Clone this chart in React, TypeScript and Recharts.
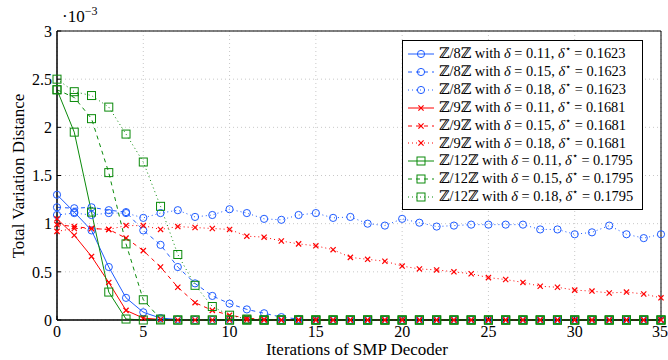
import React from 'react';
import { LineChart, Line, XAxis, YAxis, CartesianGrid, ReferenceArea } from 'recharts';

const iterations = Array.from({ length: 36 }, (_, i) => i);
const xTicks = [0, 5, 10, 15, 20, 25, 30, 35];
const yTicks = [0, 0.5, 1, 1.5, 2, 2.5, 3];

// values in units of 1e-3
const z8d11 = [1.30, 1.12, 0.93, 0.55, 0.23, 0.08, 0.02, 0.005, 0, 0, 0, 0, 0, 0, 0, 0, 0, 0, 0, 0, 0, 0, 0, 0, 0, 0, 0, 0, 0, 0, 0, 0, 0, 0, 0, 0];
const z8d15 = [1.17, 1.16, 1.17, 1.14, 1.12, 0.93, 0.78, 0.55, 0.38, 0.25, 0.17, 0.11, 0.07, 0.03, 0.01, 0, 0, 0, 0, 0, 0, 0, 0, 0, 0, 0, 0, 0, 0, 0, 0, 0, 0, 0, 0, 0];
const z8d18 = [1.09, 1.11, 1.09, 1.11, 1.11, 1.06, 1.11, 1.14, 1.07, 1.09, 1.15, 1.11, 1.05, 1.04, 1.09, 1.11, 1.06, 1.07, 1.00, 0.98, 1.05, 1.01, 0.97, 0.98, 0.99, 0.99, 0.99, 0.99, 0.94, 0.94, 0.89, 0.91, 0.98, 0.89, 0.85, 0.89];
const z9d11 = [1.05, 0.88, 0.66, 0.39, 0.10, 0.02, 0.005, 0, 0, 0, 0, 0, 0, 0, 0, 0, 0, 0, 0, 0, 0, 0, 0, 0, 0, 0, 0, 0, 0, 0, 0, 0, 0, 0, 0, 0];
const z9d15 = [0.99, 0.97, 0.95, 0.94, 0.85, 0.72, 0.55, 0.34, 0.18, 0.10, 0.05, 0.02, 0.005, 0, 0, 0, 0, 0, 0, 0, 0, 0, 0, 0, 0, 0, 0, 0, 0, 0, 0, 0, 0, 0, 0, 0];
const z9d18 = [0.92, 0.95, 0.95, 0.94, 0.98, 0.98, 0.94, 0.97, 0.96, 0.95, 0.94, 0.87, 0.86, 0.82, 0.79, 0.77, 0.73, 0.65, 0.63, 0.61, 0.56, 0.53, 0.52, 0.50, 0.48, 0.44, 0.42, 0.39, 0.35, 0.34, 0.31, 0.30, 0.28, 0.29, 0.27, 0.23];
const z12d11 = [2.39, 1.95, 1.12, 0.29, 0.01, 0, 0, 0, 0, 0, 0, 0, 0, 0, 0, 0, 0, 0, 0, 0, 0, 0, 0, 0, 0, 0, 0, 0, 0, 0, 0, 0, 0, 0, 0, 0];
const z12d15 = [2.39, 2.31, 2.09, 1.53, 0.79, 0.21, 0.01, 0, 0, 0, 0, 0, 0, 0, 0, 0, 0, 0, 0, 0, 0, 0, 0, 0, 0, 0, 0, 0, 0, 0, 0, 0, 0, 0, 0, 0];
const z12d18 = [2.50, 2.37, 2.33, 2.21, 1.93, 1.64, 1.18, 0.68, 0.36, 0.14, 0.05, 0.01, 0, 0, 0, 0, 0, 0, 0, 0, 0, 0, 0, 0, 0, 0, 0, 0, 0, 0, 0, 0, 0, 0, 0, 0];

const BLUE = '#1f5cff';
const RED = '#ff0000';
const GREEN = '#0a8a0a';

type Marker = 'circle' | 'cross' | 'square';

const series = [
  { key: 'z8d11', values: z8d11, ring: '8', delta: '0.11', star: '0.1623', color: BLUE, marker: 'circle' as Marker, dash: '' },
  { key: 'z8d15', values: z8d15, ring: '8', delta: '0.15', star: '0.1623', color: BLUE, marker: 'circle' as Marker, dash: '4 4' },
  { key: 'z8d18', values: z8d18, ring: '8', delta: '0.18', star: '0.1623', color: BLUE, marker: 'circle' as Marker, dash: '1 3' },
  { key: 'z9d11', values: z9d11, ring: '9', delta: '0.11', star: '0.1681', color: RED, marker: 'cross' as Marker, dash: '' },
  { key: 'z9d15', values: z9d15, ring: '9', delta: '0.15', star: '0.1681', color: RED, marker: 'cross' as Marker, dash: '4 4' },
  { key: 'z9d18', values: z9d18, ring: '9', delta: '0.18', star: '0.1681', color: RED, marker: 'cross' as Marker, dash: '1 3' },
  { key: 'z12d11', values: z12d11, ring: '12', delta: '0.11', star: '0.1795', color: GREEN, marker: 'square' as Marker, dash: '' },
  { key: 'z12d15', values: z12d15, ring: '12', delta: '0.15', star: '0.1795', color: GREEN, marker: 'square' as Marker, dash: '4 4' },
  { key: 'z12d18', values: z12d18, ring: '12', delta: '0.18', star: '0.1795', color: GREEN, marker: 'square' as Marker, dash: '1 3' },
];

const data = iterations.map((it, i) => {
  const row: Record<string, number> = { it };
  series.forEach((s) => { row[s.key] = s.values[i]; });
  return row;
});

function markerShape(kind: Marker, color: string, cx: number, cy: number, key?: string | number) {
  if (kind === 'circle') {
    return <circle key={key} cx={cx} cy={cy} r={3.6} fill="none" stroke={color} strokeWidth={1} strokeDasharray="none" />;
  }
  if (kind === 'square') {
    return <rect key={key} x={cx - 4} y={cy - 4} width={8} height={8} fill="none" stroke={color} strokeWidth={1} strokeDasharray="none" />;
  }
  return (
    <g key={key} stroke={color} strokeWidth={1.2} strokeDasharray="none">
      <line x1={cx - 2.6} y1={cy - 2.6} x2={cx + 2.6} y2={cy + 2.6} />
      <line x1={cx - 2.6} y1={cy + 2.6} x2={cx + 2.6} y2={cy - 2.6} />
    </g>
  );
}

const font = '"Liberation Serif", "DejaVu Serif", serif';

function LegendBox() {
  return (
    <div style={{ position: 'absolute', left: 402, top: 40, width: 241, height: 170, boxSizing: 'border-box', border: '1px solid #000', background: '#fff', padding: '4px 0 0 4px', fontFamily: font, fontSize: 14.4, lineHeight: '17.9px' }}>
      {series.map((s) => (
        <div key={s.key} style={{ display: 'flex', alignItems: 'center', whiteSpace: 'nowrap' }}>
          <svg width={28} height={12} style={{ marginRight: 4 }}>
            <line x1={1} y1={6} x2={27} y2={6} stroke={s.color} strokeWidth={1} strokeDasharray={s.dash || undefined} />
            {markerShape(s.marker, s.color, 14, 6)}
          </svg>
          <span>
            ℤ/{s.ring}ℤ with <i>δ</i> = {s.delta}, <i>δ</i><sup style={{ fontSize: 10, lineHeight: 0 }}>⋆</sup> = {s.star}
          </span>
        </div>
      ))}
    </div>
  );
}

export default function App() {
  return (
    <div style={{ position: 'relative', width: 668, height: 360, fontFamily: font }}>
      <style>{'body{margin:0}'}</style>
      <LineChart width={668} height={360} data={data} margin={{ top: 31, right: 7, bottom: 0, left: 0 }}>
        <CartesianGrid stroke="#c8c8c8" strokeDasharray="1 3" vertical horizontal />
        <XAxis
          dataKey="it"
          type="number"
          domain={[0, 35]}
          ticks={xTicks}
          height={40}
          stroke="#000"
          tickSize={-4}
          tickMargin={10}
          tick={{ fill: '#000', fontSize: 16, fontFamily: font }}
        />
        <XAxis xAxisId="top" dataKey="it" type="number" domain={[0, 35]} ticks={xTicks} orientation="top" height={0} tick={false} tickSize={-4} stroke="#000" />
        <YAxis
          type="number"
          domain={[0, 3]}
          ticks={yTicks}
          width={57}
          stroke="#000"
          tickSize={-4}
          tickMargin={9}
          tick={{ fill: '#000', fontSize: 16, fontFamily: font }}
        />
        <YAxis yAxisId="right" type="number" domain={[0, 3]} ticks={yTicks} orientation="right" width={0} tick={false} tickSize={-4} stroke="#000" />
        <ReferenceArea x1={0} x2={35} y1={0} y2={3} fill="none" stroke="#000" strokeWidth={1} />
        {series.map((s) => (
          <Line
            key={s.key}
            dataKey={s.key}
            stroke={s.color}
            strokeWidth={1}
            strokeDasharray={s.dash || undefined}
            isAnimationActive={false}
            dot={(p: any) => markerShape(s.marker, s.color, p.cx, p.cy, `${s.key}-${p.index}`)}
            activeDot={false}
          />
        ))}
      </LineChart>
      <svg width={668} height={360} style={{ position: 'absolute', left: 0, top: 0, pointerEvents: 'none' }}>
        <text x={357} y={355} textAnchor="middle" fontSize={17} fontFamily={font} fill="#000">Iterations of SMP Decoder</text>
        <text x={0} y={0} transform="translate(24,176) rotate(-90)" textAnchor="middle" fontSize={17} fontFamily={font} fill="#000">Total Variation Distance</text>
      </svg>
      <LegendBox />
      <div style={{ position: 'absolute', left: 62, top: 4, fontSize: 17, fontFamily: font }}>
        ·10<sup style={{ fontSize: 12 }}>−3</sup>
      </div>
    </div>
  );
}
